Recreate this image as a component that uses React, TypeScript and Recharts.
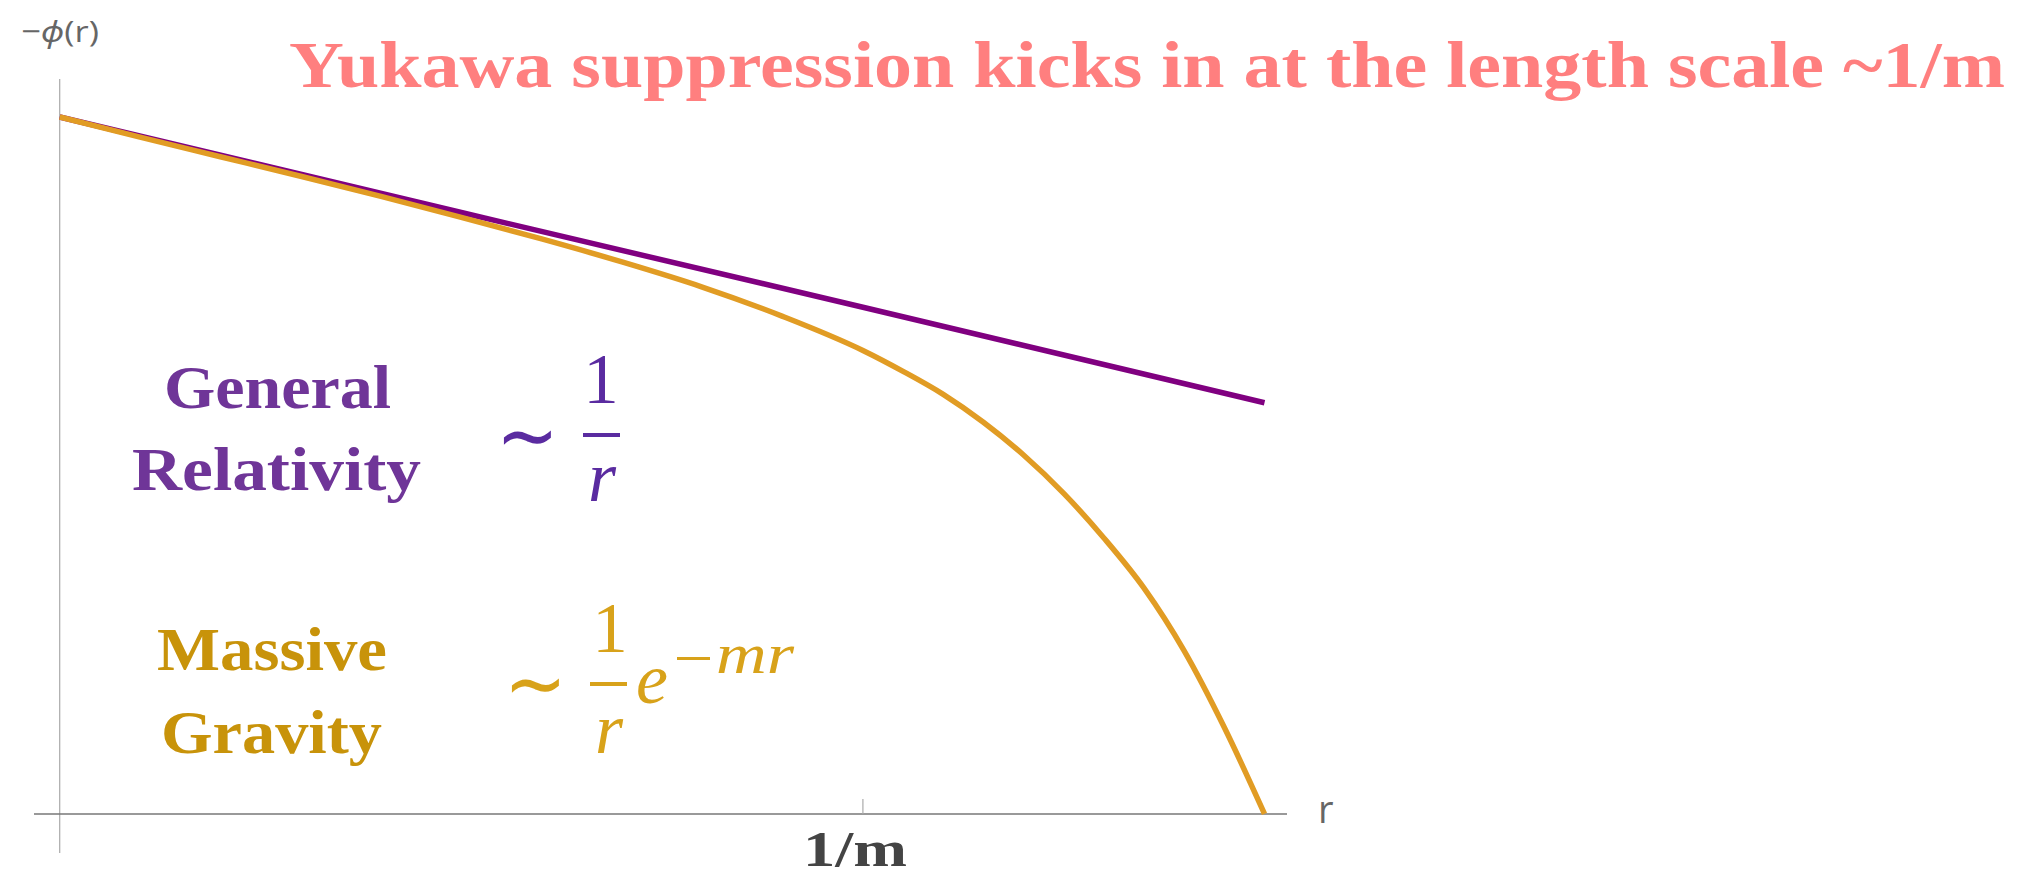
import { Line, LineChart, ReferenceLine, XAxis, YAxis } from 'recharts'

// r in units of 1/m, -phi normalised to its value at the left edge
const massiveR = [0, 0.1, 0.2, 0.3, 0.4, 0.5, 0.6, 0.7, 0.8, 0.9, 1.0, 1.05, 1.1, 1.15, 1.2, 1.25, 1.3, 1.35, 1.4, 1.45, 1.5]
const massivePhi = [1.0, 0.971, 0.943, 0.915, 0.886, 0.856, 0.825, 0.792, 0.756, 0.714, 0.665, 0.635, 0.602, 0.562, 0.515, 0.46, 0.396, 0.324, 0.234, 0.124, 0.0]
const grR = [0, 0.5, 1.0, 1.5]
const grPhi = [1.0, 0.863, 0.727, 0.59]
const xTicks = [1]
const xTickLabel = '1/m'

const W = 2041
const H = 875

const serif = '"Liberation Serif", "Times New Roman", serif'
const sans = '"Open Sans", "Noto Sans", sans-serif'

const massiveData = massiveR.map((r, i) => ({ r, v: massivePhi[i] }))
const grData = grR.map((r, i) => ({ r, v: grPhi[i] }))

function Tilde({ x, y, color }: { x: number; y: number; color: string }) {
  return (
    <text
      transform={`translate(${x},${y}) scale(1.25,1.4)`}
      fontFamily='"DejaVu Sans", sans-serif'
      fontSize={60}
      fill={color}
    >
      ∼
    </text>
  )
}

function Annotations() {
  return (
    <svg
      width={W}
      height={H}
      style={{ position: 'absolute', left: 0, top: 0, pointerEvents: 'none' }}
    >
      <text
        x={289}
        y={87}
        fontFamily={serif}
        fontWeight="bold"
        fontSize={66}
        fill="#FF7F7F"
        textLength={1716}
        lengthAdjust="spacingAndGlyphs"
      >
        Yukawa suppression kicks in at the length scale ~1/m
      </text>

      <text x={21} y={42} fontFamily={sans} fontSize={30} fill="#666" textLength={78} lengthAdjust="spacingAndGlyphs">
        −<tspan fontStyle="italic">ϕ</tspan>(r)
      </text>
      <text x={1318} y={823} fontFamily={sans} fontSize={38} fill="#666">
        r
      </text>
      <text
        x={803}
        y={866}
        fontFamily={serif}
        fontWeight="bold"
        fontSize={50}
        fill="#444"
        textLength={104}
        lengthAdjust="spacingAndGlyphs"
      >
        {xTickLabel}
      </text>

      {/* General Relativity */}
      <g fontFamily={serif} fontWeight="bold" fontSize={62} fill="#6F3598">
        <text x={164} y={408} textLength={227} lengthAdjust="spacingAndGlyphs">General</text>
        <text x={132} y={490} textLength={289} lengthAdjust="spacingAndGlyphs">Relativity</text>
      </g>
      <g fill="#5A2BA0">
        <Tilde x={496} y={464} color="#5A2BA0" />
        <text x={601} y={403} fontFamily={serif} fontSize={71} textAnchor="middle">1</text>
        <rect x={583} y={433} width={37} height={4} />
        <text x={602} y={501} fontFamily={serif} fontStyle="italic" fontSize={72} textAnchor="middle">r</text>
      </g>

      {/* Massive Gravity */}
      <g fontFamily={serif} fontWeight="bold" fontSize={62} fill="#C8930A">
        <text x={157} y={670} textLength={230} lengthAdjust="spacingAndGlyphs">Massive</text>
        <text x={161} y={753} textLength={221} lengthAdjust="spacingAndGlyphs">Gravity</text>
      </g>
      <g fill="#D8A21A">
        <Tilde x={504} y={712} color="#D8A21A" />
        <text x={610} y={652} fontFamily={serif} fontSize={71} textAnchor="middle">1</text>
        <rect x={590} y={682} width={37} height={4} />
        <text x={609} y={753} fontFamily={serif} fontStyle="italic" fontSize={72} textAnchor="middle">r</text>
        <text x={636} y={703} fontFamily={serif} fontStyle="italic" fontSize={72}>e</text>
        <rect x={677} y={657} width={33} height={3} />
        <text x={716} y={673} fontFamily={serif} fontStyle="italic" fontSize={56} textLength={78} lengthAdjust="spacingAndGlyphs">
          mr
        </text>
      </g>
    </svg>
  )
}

export default function App() {
  return (
    <div style={{ position: 'absolute', left: 0, top: 0, width: W, height: H, background: '#fff' }}>
      <LineChart width={W} height={H} margin={{ top: 79, right: 754, bottom: 22, left: 34 }}>
        <XAxis type="number" dataKey="r" domain={[-0.032, 1.528]} allowDataOverflow hide />
        <YAxis type="number" domain={[-0.056, 1.0545]} allowDataOverflow hide />
        <ReferenceLine x={0} stroke="#aaa" strokeWidth={1.2} />
        <ReferenceLine y={0} stroke="#777" strokeWidth={1.5} />
        {xTicks.map((t) => (
          <ReferenceLine
            key={t}
            segment={[
              { x: t, y: 0 },
              { x: t, y: 0.0215 }
            ]}
            stroke="#aaa"
            strokeWidth={1.2}
          />
        ))}
        <Line
          data={grData}
          dataKey="v"
          type="linear"
          stroke="#800080"
          strokeWidth={5.5}
          dot={false}
          activeDot={false}
          isAnimationActive={false}
        />
        <Line
          data={massiveData}
          dataKey="v"
          type="monotone"
          stroke="#E19C24"
          strokeWidth={5.5}
          dot={false}
          activeDot={false}
          isAnimationActive={false}
        />
      </LineChart>
      <Annotations />
    </div>
  )
}
